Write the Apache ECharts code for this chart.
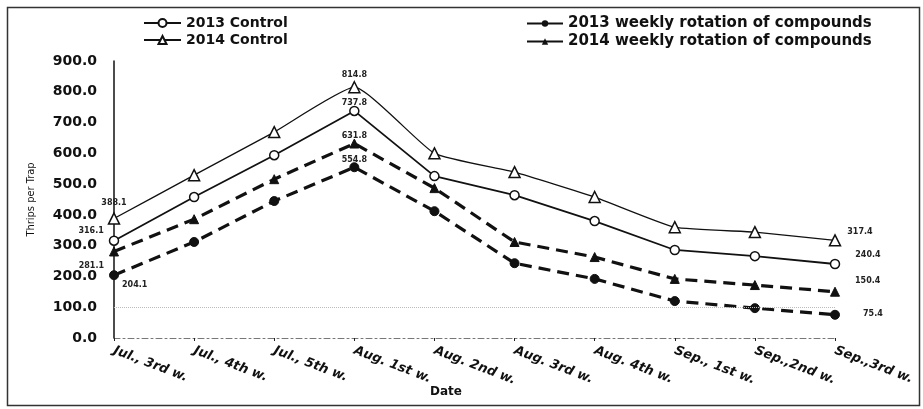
<!DOCTYPE html>
<html><head><meta charset="utf-8">
<script src="https://cdn.jsdelivr.net/npm/echarts@6/dist/echarts.min.js"></script>
<style>html,body{margin:0;padding:0;background:#fff}#c{width:923px;height:409px}</style>
</head><body><div id="c"></div>
<script>
var categories = ['Jul., 3rd w.','Jul., 4th w.','Jul., 5th w.','Aug. 1st w.','Aug. 2nd w.','Aug. 3rd w.','Aug. 4th w.','Sep., 1st w.','Sep.,2nd w.','Sep.,3rd w.'];
var control2013 = [316.1, 458, 594, 737.8, 526, 464, 380, 286, 266, 240.4];
var control2014 = [388.1, 529, 669, 814.8, 600, 539, 458, 360, 344, 317.4];
var rotation2013 = [204.1, 312, 445, 554.8, 412, 243, 192, 120, 97, 75.4];
var rotation2014 = [281.1, 386, 516, 631.8, 487, 312, 263, 192, 172, 150.4];
var yTicks = [0,100,200,300,400,500,600,700,800,900];

var FONT = '"DejaVu Sans", Verdana, sans-serif';
var lblBase = {show:true, fontSize:8, fontWeight:'bold', color:'#222', fontFamily:FONT};
function items(arr, labelIdx) {
  return arr.map(function(v, i){
    var cfg = labelIdx[i];
    if (!cfg) return {value: v, label:{show:false}};
    return {value: v, label: Object.assign({}, lblBase, cfg, {formatter: v.toFixed(1)})};
  });
}
var last = categories.length - 1;
var lblC14 = {}; lblC14[0] = {position:'top', offset:[0,0]}; lblC14[3] = {position:'top', offset:[0,3]}; lblC14[last] = {position:'right', offset:[1,-8]};
var lblC13 = {}; lblC13[0] = {position:'left', offset:[0,-10]}; lblC13[3] = {position:'top', offset:[0,6]}; lblC13[last] = {position:'right', offset:[10,-9]};
var lblR14 = {}; lblR14[0] = {position:'left', offset:[0,14]}; lblR14[3] = {position:'top', offset:[0,6]}; lblR14[last] = {position:'right', offset:[10,-11]};
var lblR13 = {}; lblR13[0] = {position:'right', offset:[-2,10]}; lblR13[3] = {position:'top', offset:[0,7]}; lblR13[last] = {position:'right', offset:[18,-1]};

var chart = echarts.init(document.getElementById('c'), null, {renderer:'canvas'});
var legText1 = {fontFamily: FONT, fontWeight:'bold', fontSize:14, color:'#111'};
var legText2 = {fontFamily: FONT, fontWeight:'bold', fontSize:15, color:'#111'};
chart.setOption({
  animation:false,
  backgroundColor:'#fff',
  textStyle:{fontFamily:FONT},
  legend:[
    {data:['2013 Control','2014 Control'], orient:'vertical', left:138, top:11, itemGap:3, itemWidth:37, itemHeight:10, textStyle:legText1},
    {data:['2013 weekly rotation of compounds','2014 weekly rotation of compounds'], orient:'vertical', left:521, top:11, itemGap:3, itemWidth:36, itemHeight:8,
     lineStyle:{type:'solid'}, textStyle:legText2}
  ],
  grid:{left:114, right:88, top:61, bottom:71, containLabel:false},
  xAxis:{
    type:'category', data:categories, boundaryGap:false,
    axisLine:{lineStyle:{color:'#777', type:[6,3,2,3], width:1}},
    axisTick:{show:true, inside:false, length:3, lineStyle:{color:'#222'}},
    axisLabel:{rotate:-21, fontSize:13, fontWeight:'bold', fontStyle:'italic', color:'#111', margin:12, fontFamily:FONT, interval:0}
  },
  yAxis:{
    type:'value', min:0, max:900, interval:100,
    name:'Thrips per Trap', nameLocation:'middle', nameGap:77, nameRotate:90,
    nameTextStyle:{fontSize:11, color:'#111', fontFamily:'"Liberation Sans Narrow","DejaVu Sans Condensed",sans-serif'},
    axisLine:{show:true, lineStyle:{color:'#111', width:1.5}},
    axisTick:{show:false},
    splitLine:{show:false},
    axisLabel:{fontSize:14, fontWeight:'bold', color:'#111', margin:17, fontFamily:FONT,
      formatter:function(v){return v.toFixed(1);}}
  },
  series:[
    {name:'2013 Control', type:'line', data:items(control2013, lblC13),
     symbol:'circle', symbolSize:9, itemStyle:{color:'#fff', borderColor:'#111', borderWidth:1.5},
     lineStyle:{color:'#111', width:1.8}, z:3,
     markLine:{silent:true, symbol:'none', label:{show:false}, lineStyle:{color:'#bbb', type:'dotted', width:1}, data:[{yAxis: yTicks[1]}]}},
    {name:'2014 Control', type:'line', data:items(control2014, lblC14), smooth:0.15,
     symbol:'triangle', symbolSize:11, itemStyle:{color:'#fff', borderColor:'#111', borderWidth:1.5},
     lineStyle:{color:'#111', width:1.3}, z:3},
    {name:'2013 weekly rotation of compounds', type:'line', data:items(rotation2013, lblR13),
     symbol:'circle', symbolSize:9, itemStyle:{color:'#111', borderColor:'#111'},
     lineStyle:{color:'#111', width:3.2, type:[12,7]}, z:2},
    {name:'2014 weekly rotation of compounds', type:'line', data:items(rotation2014, lblR14),
     symbol:'triangle', symbolSize:9, itemStyle:{color:'#111', borderColor:'#111'},
     lineStyle:{color:'#111', width:3.2, type:[12,7]}, z:2}
  ],
  graphic:[
    {type:'rect', left:5, top:5, shape:{width:912, height:398}, style:{fill:'none', stroke:'#333', lineWidth:1.5}, silent:true},
    {type:'text', left:430, top:386, style:{text:'Date', font:'bold 12px '+FONT, fill:'#111'}}
  ]
});
</script>
</body></html>
